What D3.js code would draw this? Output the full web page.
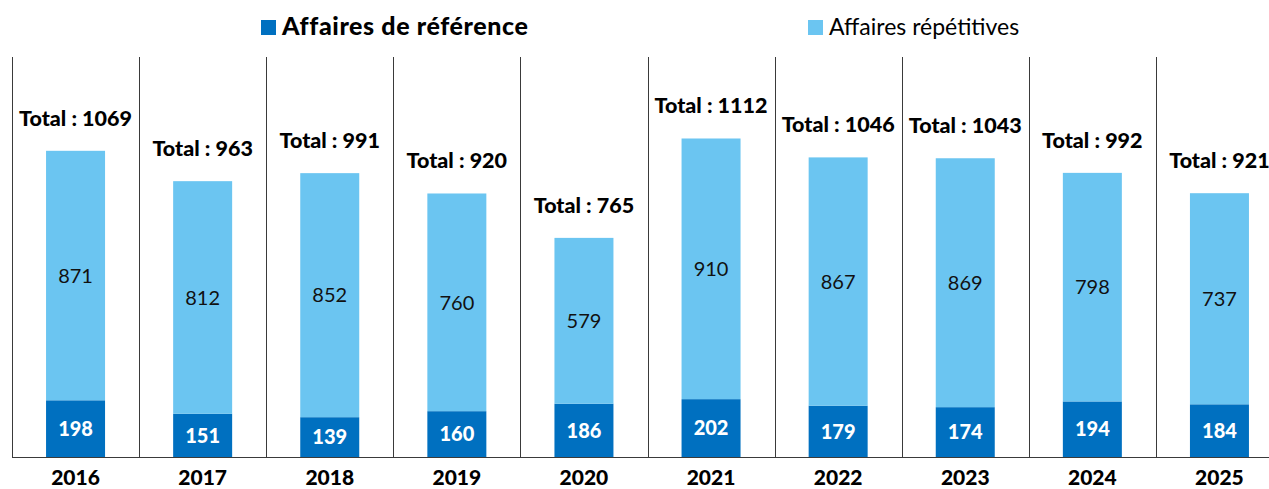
<!DOCTYPE html>
<html>
<head>
<meta charset="utf-8">
<script src="https://cdn.jsdelivr.net/npm/d3@7"></script>
<style>
  html, body { margin: 0; padding: 0; background: #fff; }
  svg { display: block; font-family: "Lato", "Noto Sans", sans-serif; }
</style>
</head>
<body>
<svg id="chart" width="1269" height="489"></svg>
<script>
// Annual case counts, split by type
const years = ["2016", "2017", "2018", "2019", "2020", "2021", "2022", "2023", "2024", "2025"];
const reference = [198, 151, 139, 160, 186, 202, 179, 174, 194, 184];
const repetitive = [871, 812, 852, 760, 579, 910, 867, 869, 798, 737];
const totals = [1069, 963, 991, 920, 765, 1112, 1046, 1043, 992, 921];

const seriesNames = ["Affaires de référence", "Affaires répétitives"];
const colors = { ref: "#0070c0", rep: "#6bc5f1" };

const svg = d3.select("#chart");

const left = 12, colW = 127.1;
const x = d3.scaleBand()
  .domain(years)
  .range([left, left + colW * years.length])
  .paddingInner(0)
  .paddingOuter(0);
const barW = 59;

const y = d3.scaleLinear().domain([0, 1400]).range([457, 56]);

const rows = years.map((yr, i) => ({
  year: yr, ref: reference[i], rep: repetitive[i], total: totals[i]
}));

// column separators
svg.append("g").selectAll("line")
  .data(years)
  .join("line")
  .attr("x1", d => Math.round(x(d)) + 0.5)
  .attr("x2", d => Math.round(x(d)) + 0.5)
  .attr("y1", y.range()[1] + 1)
  .attr("y2", y(0))
  .attr("stroke", "#3a3a3a")
  .attr("stroke-width", 1);

const cx = d => x(d.year) + x.bandwidth() / 2;

// stacked bars
const g = svg.append("g");
g.selectAll("rect.ref")
  .data(rows)
  .join("rect")
  .attr("class", "ref")
  .attr("x", d => cx(d) - barW / 2)
  .attr("width", barW)
  .attr("y", d => y(d.ref))
  .attr("height", d => y(0) - y(d.ref))
  .attr("fill", colors.ref);

g.selectAll("rect.rep")
  .data(rows)
  .join("rect")
  .attr("class", "rep")
  .attr("x", d => cx(d) - barW / 2)
  .attr("width", barW)
  .attr("y", d => y(d.ref + d.rep))
  .attr("height", d => y(d.ref) - y(d.ref + d.rep))
  .attr("fill", colors.rep);

// baseline
svg.append("line")
  .attr("x1", left).attr("x2", 1269)
  .attr("y1", y(0) + 0.5).attr("y2", y(0) + 0.5)
  .attr("stroke", "#3a3a3a").attr("stroke-width", 1);

// value labels
g.selectAll("text.refv")
  .data(rows)
  .join("text")
  .attr("x", cx)
  .attr("y", d => (y(0) + y(d.ref)) / 2)
  .attr("dy", "0.36em")
  .attr("text-anchor", "middle")
  .attr("fill", "#fff")
  .attr("font-weight", 900)
  .attr("font-size", 20)
  .text(d => d.ref);

g.selectAll("text.repv")
  .data(rows)
  .join("text")
  .attr("x", cx)
  .attr("y", d => (y(d.ref) + y(d.ref + d.rep)) / 2)
  .attr("dy", "0.36em")
  .attr("text-anchor", "middle")
  .attr("fill", "#111")
  .attr("font-size", 20)
  .text(d => d.rep);

g.selectAll("text.tot")
  .data(rows)
  .join("text")
  .attr("x", cx)
  .attr("y", d => y(d.total) - 25)
  .attr("text-anchor", "middle")
  .attr("fill", "#000")
  .attr("font-weight", 900)
  .attr("font-size", 21.5)
  .text(d => "Total : " + d.total);

// year labels
g.selectAll("text.yr")
  .data(rows)
  .join("text")
  .attr("x", cx)
  .attr("y", 485)
  .attr("text-anchor", "middle")
  .attr("fill", "#000")
  .attr("font-weight", 900)
  .attr("font-size", 21)
  .text(d => d.year);

// legend
const legend = [
  { name: seriesNames[0], color: colors.ref, x: 261, bold: true, size: 25, spacing: 0.6 },
  { name: seriesNames[1], color: colors.rep, x: 808, bold: false, size: 23, spacing: 0 }
];
const lg = svg.append("g").selectAll("g").data(legend).join("g")
  .attr("transform", d => `translate(${d.x},20)`);
lg.append("rect").attr("width", 15).attr("height", 15).attr("fill", d => d.color);
lg.append("text")
  .attr("x", 21).attr("y", 15)
  .attr("font-size", d => d.size)
  .attr("letter-spacing", d => d.spacing)
  .attr("font-weight", d => d.bold ? 900 : 400)
  .attr("fill", "#000")
  .text(d => d.name);
</script>
</body>
</html>
